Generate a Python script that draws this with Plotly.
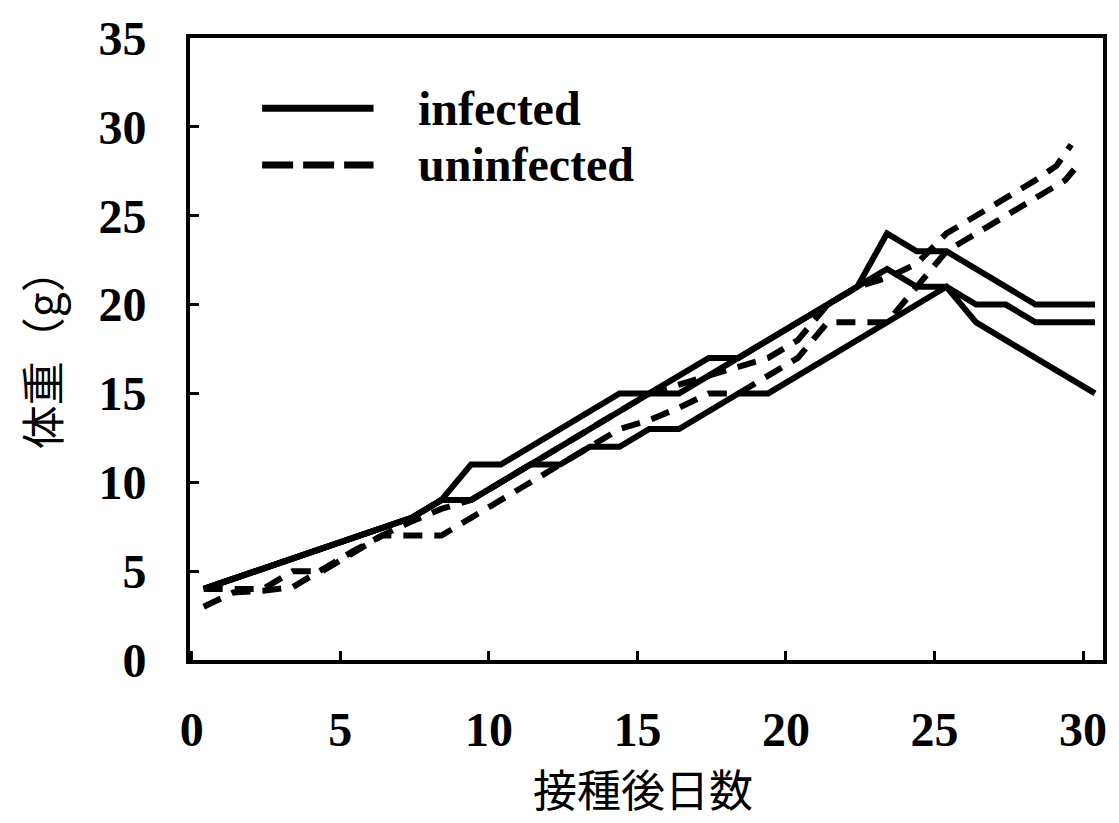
import plotly.graph_objects as go

# ---- data ----
inf_days = [0.4, 7.4, 8.4, 9.4, 10.4, 11.4, 12.4, 13.4, 14.4, 15.4, 16.4, 17.4, 18.4,
            19.4, 20.4, 21.4, 22.4, 23.4, 24.4, 25.4, 26.4, 27.4, 28.4, 29.4, 30.4]
infected_a = [4, 8, 9, 11, 11, 12, 13, 14, 15, 15, 16, 17, 17,
              18, 19, 20, 21, 24, 23, 23, 22, 21, 20, 20, 20]
infected_b = [4, 8, 9, 9, 10, 11, 12, 13, 14, 15, 15, 16, 17,
              18, 19, 20, 21, 22, 21, 21, 20, 20, 19, 19, 19]
infected_c = [4, 8, 9, 9, 10, 11, 11, 12, 12, 13, 13, 14, 15,
              15, 16, 17, 18, 19, 20, 21, 19, 18, 17, 16, 15]

uninf_days_a = [0.4, 1.4, 2.4, 3.4, 4.4, 5.4, 6.4, 7.4, 8.4, 9.4,
                10.4, 11.4, 12.4, 13.4, 14.4, 15.4, 16.4, 17.4, 18.4, 19.4,
                20.4, 21.4, 22.4, 23.4, 24.4, 25.4, 26.4, 27.4, 28.4, 29.4, 29.7]
uninfected_a = [3, 3.8, 3.9, 4.1, 5.1, 6.1, 7, 7, 7, 8,
                9, 10, 11, 12, 13, 13.5, 14.2, 15, 15, 16,
                17, 19, 19, 19, 21, 23, 24, 25, 26, 27, 27.6]
uninf_days_b = [0.4, 1.4, 2.4, 3.4, 4.4, 5.4, 6.4, 7.4, 8.4, 9.4,
                10.4, 11.4, 12.4, 13.4, 14.4, 15.4, 16.4, 17.4, 18.4, 19.4,
                20.4, 21.4, 22.4, 23.4, 24.4, 25.4, 26.4, 27.4, 28.4, 29.1, 29.6]
uninfected_b = [4, 4, 4, 5, 5, 6, 7, 7.8, 8.5, 9,
                10, 11, 12, 13, 14, 15, 15.5, 16, 16.5, 17,
                18, 20, 21, 21.5, 22.3, 24, 25, 26, 27, 27.8, 29]

x_ticks = [0, 5, 10, 15, 20, 25, 30]
y_ticks = [0, 5, 10, 15, 20, 25, 30, 35]
x_title = "接種後日数"
y_title = "体重（g）"
legend_labels = ["infected", "uninfected"]

LW = 6
DASH = "19px,12px"

fig = go.Figure()
for ys in (infected_a, infected_b, infected_c):
    fig.add_trace(go.Scatter(x=inf_days, y=ys, mode="lines",
                             line=dict(color="black", width=LW),
                             showlegend=False, hoverinfo="skip"))
for xs, ys in ((uninf_days_a, uninfected_a), (uninf_days_b, uninfected_b)):
    fig.add_trace(go.Scatter(x=xs, y=ys, mode="lines",
                             line=dict(color="black", width=LW, dash=DASH),
                             showlegend=False, hoverinfo="skip"))

tick_font = dict(family="Liberation Serif", size=48, color="black", weight="bold")

fig.update_xaxes(range=[-0.06, 30.67], tickvals=x_ticks, ticktext=[str(v) for v in x_ticks],
                 ticks="inside", ticklen=9, tickwidth=3, tickcolor="black",
                 showline=True, linewidth=4, linecolor="black", mirror=True,
                 showgrid=False, zeroline=False, tickfont=tick_font,
                 ticklabelstandoff=24)
fig.update_yaxes(range=[0, 35], tickvals=y_ticks, ticktext=[str(v) for v in y_ticks],
                 ticks="inside", ticklen=9, tickwidth=3, tickcolor="black",
                 showline=True, linewidth=4, linecolor="black", mirror=True,
                 showgrid=False, zeroline=False, tickfont=tick_font,
                 ticklabelstandoff=30)

# legend drawn manually (long line samples like the reference)
legend_font = dict(family="Liberation Serif", size=48, color="black", weight="bold")
fig.add_shape(type="line", xref="paper", yref="paper", x0=0.079, x1=0.201, y0=0.887, y1=0.887,
              line=dict(color="black", width=7))
fig.add_shape(type="line", xref="paper", yref="paper", x0=0.079, x1=0.201, y0=0.796, y1=0.796,
              line=dict(color="black", width=7, dash="31px,10px"))
fig.add_annotation(xref="paper", yref="paper", x=0.247, y=0.887, text=legend_labels[0],
                   showarrow=False, xanchor="left", yanchor="middle", font=legend_font)
fig.add_annotation(xref="paper", yref="paper", x=0.247, y=0.796, text=legend_labels[1],
                   showarrow=False, xanchor="left", yanchor="middle", font=legend_font)

title_font = dict(family="Noto Sans CJK JP", size=44, color="black")
fig.add_annotation(xref="paper", yref="paper", x=0.496, y=-0.205, text=x_title,
                   showarrow=False, xanchor="center", yanchor="middle", font=title_font)
fig.add_annotation(xref="paper", yref="paper", x=-0.163, y=0.5, text=y_title, textangle=-90,
                   showarrow=False, xanchor="center", yanchor="middle", font=title_font)

fig.update_layout(width=1119, height=823, plot_bgcolor="white", paper_bgcolor="white",
                  margin=dict(l=190, r=12, t=32, b=163), showlegend=False)

fig.write_html("out.html", config={"displayModeBar": False},
               post_script="document.body.style.margin='0px';")
